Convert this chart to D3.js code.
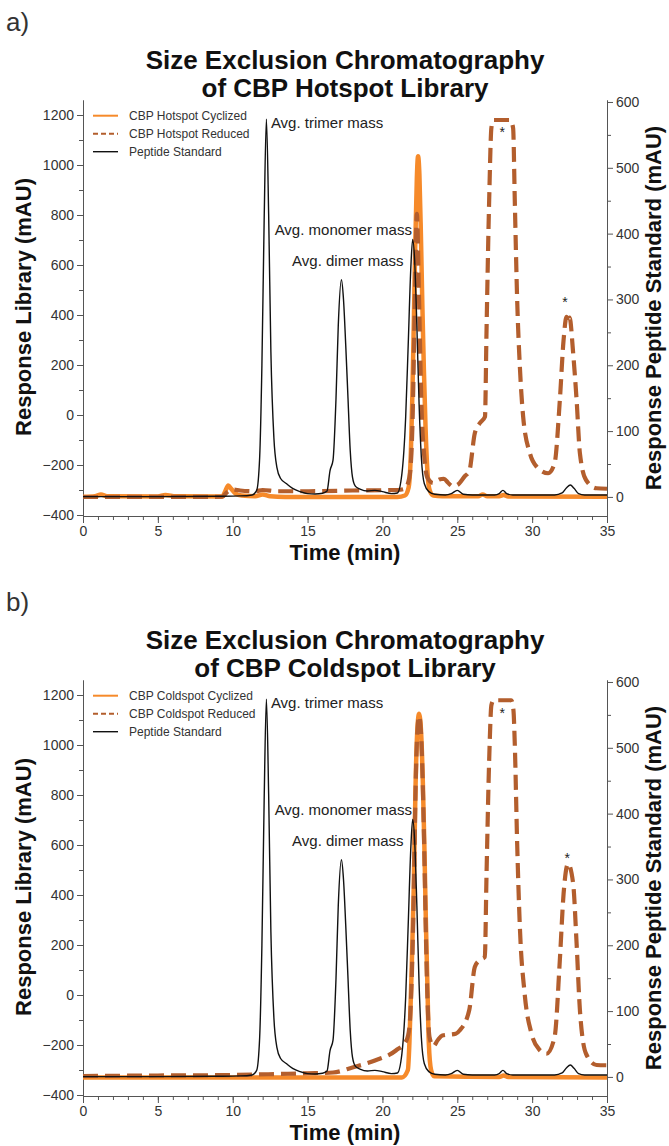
<!DOCTYPE html>
<html>
<head>
<meta charset="utf-8">
<script src="https://cdn.jsdelivr.net/npm/d3@7"></script>
<style>
  body { margin: 0; background: #fff; }
  svg { display: block; font-family: "Liberation Sans", Arial, sans-serif; }
</style>
</head>
<body>
<script>
// ---- data: [time (min), response (mAU)] ----
var peptideStandard = [
  [0, 0.5], [5, 0.5], [9, 1], [10.5, 1.5], [11.3, 3], [11.6, 10], [11.8, 60], [11.95, 200],
  [12.1, 420], [12.25, 574], [12.4, 430], [12.55, 220], [12.75, 90], [12.95, 45], [13.2, 28],
  [13.6, 20], [14.0, 13], [14.5, 8], [15.0, 5], [15.5, 4.5], [16.0, 5.5], [16.3, 9], [16.5, 40],
  [16.7, 56], [16.9, 150], [17.05, 260], [17.26, 330], [17.4, 300], [17.55, 230], [17.7, 150],
  [17.85, 70], [18.0, 30], [18.2, 16], [18.5, 12], [19.0, 9], [19.5, 10], [20.0, 8], [20.6, 5],
  [21.0, 6], [21.3, 35], [21.55, 120], [21.72, 230], [21.9, 350], [22.02, 391], [22.15, 360],
  [22.3, 260], [22.45, 140], [22.6, 60], [22.8, 20], [23.1, 8], [23.5, 4], [24.2, 3], [24.6, 5],
  [25.0, 10], [25.4, 4], [26, 3], [27.5, 3], [27.8, 5], [28.05, 10], [28.3, 5], [28.7, 3],
  [31.5, 3], [32.0, 6], [32.3, 14], [32.55, 18], [32.8, 13], [33.1, 5], [33.5, 3], [35, 3]
];

var hotspotCyclized = [
  [0, -327], [0.8, -325], [1.2, -318], [1.6, -325], [5.0, -326], [5.5, -320], [6.2, -325],
  [9.3, -326], [9.5, -305], [9.7, -282], [9.9, -295], [10.2, -315], [10.6, -322], [11.5, -325],
  [12.0, -318], [12.5, -325], [13.5, -328], [21.0, -328], [21.5, -322], [21.75, -290],
  [21.9, -150], [22.0, 80], [22.1, 380], [22.2, 700], [22.3, 950], [22.38, 1035], [22.47, 960],
  [22.57, 720], [22.67, 430], [22.77, 180], [22.88, -50], [23.0, -220], [23.15, -300],
  [23.4, -322], [24, -325], [26.4, -325], [26.7, -318], [27.0, -325], [27.8, -325],
  [28.1, -320], [28.4, -326], [35, -327]
];

var hotspotReduced = [
  [0, -328], [9.3, -327], [9.6, -310], [10.0, -298], [10.5, -302], [11.5, -305], [12.0, -300],
  [13, -305], [15, -305], [18, -302], [21.0, -300], [21.5, -295], [21.8, -250], [22.0, -50],
  [22.15, 400], [22.3, 805], [22.45, 450], [22.6, 50], [22.8, -170], [23.0, -250], [23.4, -272],
  [23.8, -258], [24.1, -255], [24.4, -272], [24.7, -285], [25.0, -280], [25.5, -245],
  [25.8, -225], [26.17, -73], [26.5, -33], [26.85, -7], [26.95, 327], [27.13, 860],
  [27.28, 1150], [27.42, 1180], [28.55, 1180], [28.73, 1147], [28.84, 860], [29.0, 460],
  [29.18, 193], [29.4, -7], [29.85, -153], [30.3, -207], [31.07, -233], [31.5, -193],
  [31.85, 60], [32.1, 300], [32.3, 393], [32.4, 370], [32.5, 390], [32.74, 247], [32.97, 60],
  [33.19, -153], [33.6, -260], [34.3, -293], [35, -295]
];

var coldspotCyclized = [
  [0, -330], [21.3, -330], [21.7, -300], [21.8, -195], [21.95, 100], [22.1, 450], [22.2, 800],
  [22.3, 1020], [22.45, 1125], [22.6, 1030], [22.7, 850], [22.8, 600], [22.9, 300], [23.0, 50],
  [23.1, -195], [23.25, -300], [23.45, -325], [27.8, -328], [28.1, -322], [28.4, -328], [35, -330]
];

var coldspotReduced = [
  [0, -324], [5, -322], [10, -320], [13, -316], [15, -313], [16.7, -310], [18.0, -290],
  [19.5, -262], [20.9, -222], [21.6, -182], [21.8, -130], [21.95, 50], [22.1, 420], [22.2, 780],
  [22.3, 1010], [22.45, 1115], [22.6, 1020], [22.7, 830], [22.8, 560], [22.9, 250], [23.0, 0],
  [23.15, -170], [23.4, -205], [23.7, -180], [24.0, -162], [24.9, -155], [25.17, -141],
  [25.8, -60], [26.17, 112], [26.5, 140], [26.84, 152], [26.95, 472], [27.13, 940],
  [27.28, 1160], [27.42, 1179], [28.6, 1179], [28.75, 1140], [28.84, 1005], [29.0, 605],
  [29.18, 272], [29.5, 5], [29.96, -155], [30.5, -220], [30.96, -235], [31.5, -168],
  [31.85, 140], [32.1, 405], [32.4, 525], [32.74, 445], [32.97, 205], [33.19, -60],
  [33.6, -235], [34.3, -280], [35, -281]
];

// tick labels
var timeTicks = [0, 5, 10, 15, 20, 25, 30, 35];
var libraryTicks = [-400, -200, 0, 200, 400, 600, 800, 1000, 1200];
var standardTicks = [0, 100, 200, 300, 400, 500, 600];

// peak annotations on the standard (right axis): [text, time, value, anchor]
var peakNotes = [
  ["Avg. trimer mass", 12.55, 561, "start"],
  ["Avg. monomer mass", 21.97, 398, "end"],
  ["Avg. dimer mass", 21.41, 351, "end"]
];
// asterisks over the reduced peaks (left axis): [time, value]
var hotspotStars = [[28.0, 1143], [32.2, 463]];
var coldspotStars = [[28.0, 1141], [32.34, 560]];

var panels = [
  { tag: "a)", title: ["Size Exclusion Chromatography", "of CBP Hotspot Library"],
    cyc: hotspotCyclized, red: hotspotReduced, stars: hotspotStars,
    names: ["CBP Hotspot Cyclized", "CBP Hotspot Reduced", "Peptide Standard"] },
  { tag: "b)", title: ["Size Exclusion Chromatography", "of CBP Coldspot Library"],
    cyc: coldspotCyclized, red: coldspotReduced, stars: coldspotStars,
    names: ["CBP Coldspot Cyclized", "CBP Coldspot Reduced", "Peptide Standard"] }
];

var orange = "#f68a2a", brown = "#b35e2d", black = "#111", axisColor = "#555", textColor = "#333";

var svg = d3.select("body").append("svg")
    .attr("width", 669)
    .attr("height", 1146);

svg.append("rect").attr("width", 669).attr("height", 1146).attr("fill", "#fff");

var x = d3.scaleLinear().domain([0, 35]).range([83, 607]);
var fmt = d3.format("d");

panels.forEach(function(p, i) {
  var off = i * 580;
  var top = 100 + off, bottom = 516 + off;
  var yL = d3.scaleLinear().domain([-404, 1260]).range([bottom, top]);
  var yR = d3.scaleLinear().domain([-29, 603]).range([bottom, top]);

  var g = svg.append("g");

  // panel tag and title
  g.append("text")
      .attr("x", 6).attr("y", 31 + off)
      .attr("font-size", "26px")
      .attr("fill", textColor)
      .text(p.tag);

  p.title.forEach(function(line, k) {
    g.append("text")
        .attr("x", 345).attr("y", 69 + off + k * 28)
        .attr("text-anchor", "middle")
        .attr("font-size", "26px")
        .attr("font-weight", "bold")
        .attr("fill", "#111")
        .text(line);
  });

  // axes
  g.append("g")
      .attr("transform", "translate(0," + bottom + ")")
      .call(d3.axisBottom(x).tickValues(timeTicks).tickSize(7).tickFormat(fmt).tickSizeOuter(0));
  g.append("g")
      .attr("transform", "translate(0," + bottom + ")")
      .call(d3.axisBottom(x).tickValues(d3.range(0, 36, 1)).tickSize(4).tickFormat("").tickSizeOuter(0));

  g.append("g")
      .attr("transform", "translate(83,0)")
      .call(d3.axisLeft(yL).tickValues(libraryTicks).tickSize(6).tickFormat(fmt).tickSizeOuter(0));
  g.append("g")
      .attr("transform", "translate(83,0)")
      .call(d3.axisLeft(yL).tickValues(d3.range(-300, 1201, 200)).tickSize(4).tickFormat("").tickSizeOuter(0));

  g.append("g")
      .attr("transform", "translate(607,0)")
      .call(d3.axisRight(yR).tickValues(standardTicks).tickSize(6).tickFormat(fmt).tickSizeOuter(0));
  g.append("g")
      .attr("transform", "translate(607,0)")
      .call(d3.axisRight(yR).tickValues(d3.range(50, 600, 100)).tickSize(4).tickFormat("").tickSizeOuter(0));

  g.selectAll(".domain, .tick line").attr("stroke", axisColor).attr("stroke-width", 1);
  g.selectAll(".tick text")
      .attr("font-size", "14px")
      .attr("fill", textColor)
      .attr("font-family", "'Liberation Sans', Arial, sans-serif");

  // axis titles
  g.append("text")
      .attr("transform", "translate(31," + (307 + off) + ") rotate(-90)")
      .attr("text-anchor", "middle")
      .attr("font-size", "22px")
      .attr("font-weight", "bold")
      .attr("fill", "#111")
      .text("Response Library (mAU)");

  g.append("text")
      .attr("transform", "translate(661," + (308 + off) + ") rotate(-90)")
      .attr("text-anchor", "middle")
      .attr("font-size", "22px")
      .attr("font-weight", "bold")
      .attr("fill", "#111")
      .text("Response Peptide Standard (mAU)");

  g.append("text")
      .attr("x", 345).attr("y", 560 + off)
      .attr("text-anchor", "middle")
      .attr("font-size", "22px")
      .attr("font-weight", "bold")
      .attr("fill", "#111")
      .text("Time (min)");

  // traces
  var lineL = d3.line()
      .x(function(d) { return x(d[0]); })
      .y(function(d) { return yL(d[1]); })
      .curve(d3.curveMonotoneX);
  var lineR = d3.line()
      .x(function(d) { return x(d[0]); })
      .y(function(d) { return yR(d[1]); })
      .curve(d3.curveMonotoneX);

  g.append("path")
      .datum(p.cyc)
      .attr("fill", "none")
      .attr("stroke", orange)
      .attr("stroke-width", 4.5)
      .attr("stroke-linejoin", "round")
      .attr("d", lineL);

  g.append("path")
      .datum(p.red)
      .attr("fill", "none")
      .attr("stroke", brown)
      .attr("stroke-width", 4.2)
      .attr("stroke-dasharray", "15,7")
      .attr("stroke-linejoin", "round")
      .attr("d", lineL);

  g.append("path")
      .datum(peptideStandard)
      .attr("fill", "none")
      .attr("stroke", black)
      .attr("stroke-width", 1.4)
      .attr("stroke-linejoin", "round")
      .attr("d", lineR);

  // annotations
  peakNotes.forEach(function(n) {
    g.append("text")
        .attr("x", x(n[1])).attr("y", yR(n[2]))
        .attr("text-anchor", n[3])
        .attr("font-size", "15px")
        .attr("fill", "#222")
        .text(n[0]);
  });

  p.stars.forEach(function(s) {
    g.append("text")
        .attr("x", x(s[0])).attr("y", yL(s[1]) + 8)
        .attr("text-anchor", "middle")
        .attr("font-size", "14px")
        .attr("fill", "#222")
        .text("*");
  });

  // legend
  var legendStyles = [
    { color: orange, width: 2, dash: null },
    { color: brown, width: 2, dash: "5,3" },
    { color: black, width: 1.4, dash: null }
  ];
  p.names.forEach(function(name, k) {
    var ly = top + 15.7 + k * 18;
    g.append("line")
        .attr("x1", 93).attr("x2", 118)
        .attr("y1", ly).attr("y2", ly)
        .attr("stroke", legendStyles[k].color)
        .attr("stroke-width", legendStyles[k].width)
        .attr("stroke-dasharray", legendStyles[k].dash);
    g.append("text")
        .attr("x", 129).attr("y", ly + 4)
        .attr("font-size", "12px")
        .attr("fill", textColor)
        .text(name);
  });
});
</script>
</body>
</html>
